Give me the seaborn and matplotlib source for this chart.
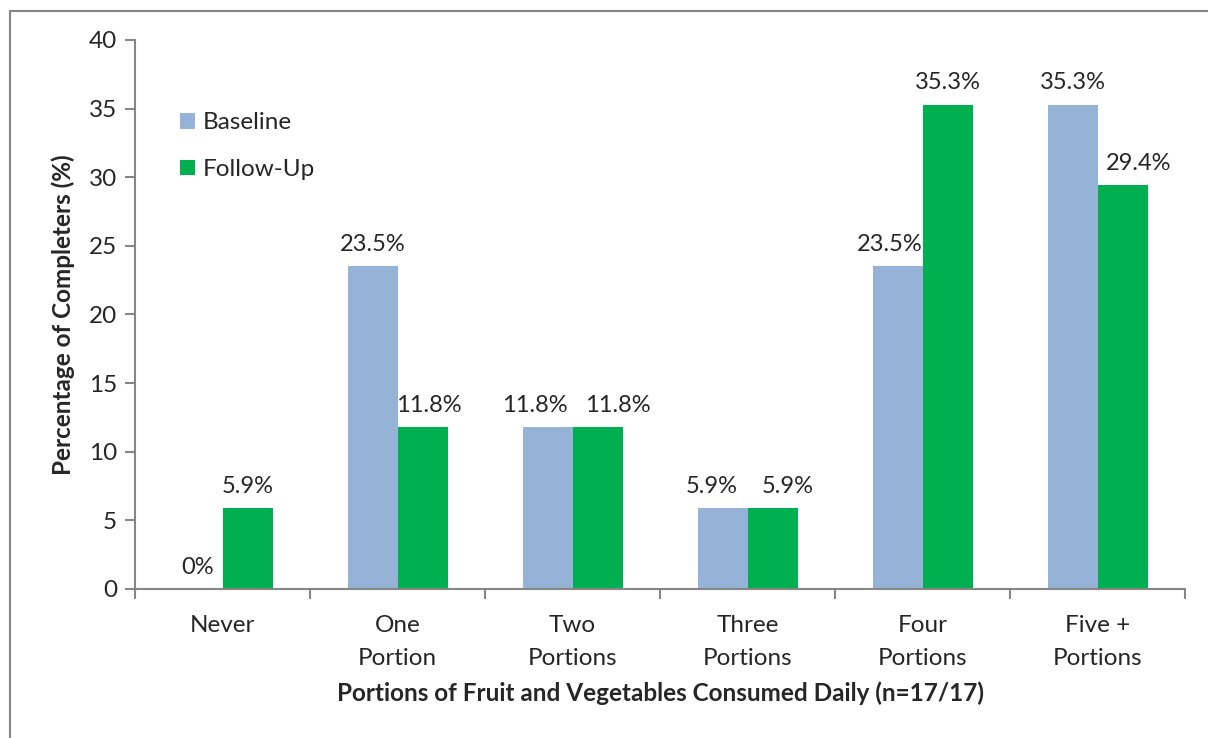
import pandas as pd
import matplotlib
import matplotlib.pyplot as plt
import seaborn as sns

matplotlib.use('Agg')

# data
categories = ['Never', 'One\nPortion', 'Two\nPortions', 'Three\nPortions',
              'Four\nPortions', 'Five +\nPortions']
baseline = [0, 23.5, 11.8, 5.9, 23.5, 35.3]
follow_up = [5.9, 11.8, 11.8, 5.9, 35.3, 29.4]
series = ['Baseline', 'Follow-Up']
colors = ['#95B3D7', '#00B050']

# horizontal nudges of the data labels (pixels), as placed in the original
nudge_base = [0, 0, -13, -11, -8, 0]
nudge_follow = [0, 6, 20, 15, 0, 16]

df = pd.DataFrame({
    'category': categories * 2,
    'value': baseline + follow_up,
    'series': [series[0]] * len(categories) + [series[1]] * len(categories),
})

sns.set_style('white')
plt.rcParams['font.family'] = ['Lato', 'DejaVu Sans']
grey = '#868686'
fs = 17.5

fig = plt.figure(figsize=(12.08, 7.38), dpi=100)
ax = fig.add_axes([0.1118, 0.2019, 0.8692, 0.7439])

sns.barplot(data=df, x='category', y='value', hue='series', palette=colors,
            width=0.571, gap=0, saturation=1, ax=ax, errorbar=None,
            linewidth=0, edgecolor='none')

# data labels
for cont, vals, nudges in zip(ax.containers, [baseline, follow_up],
                              [nudge_base, nudge_follow]):
    for bar, v, dx in zip(cont, vals, nudges):
        ax.annotate(f'{v:g}%', (bar.get_x() + bar.get_width() / 2, bar.get_height()),
                    xytext=(dx * 0.72, 8), textcoords='offset points',
                    ha='center', va='bottom', fontsize=fs - 0.5)

ax.set_ylim(0, 40)
ax.set_yticks(range(0, 41, 5))
ax.set_xlim(-0.5, len(categories) - 0.5)
ax.set_xticks(range(len(categories)))
ax.set_xticklabels(categories, linespacing=1.68)
ax.set_xticks([i - 0.5 for i in range(len(categories) + 1)], minor=True)
ax.tick_params(axis='x', which='major', length=0, labelsize=fs, pad=19)
ax.tick_params(axis='x', which='minor', length=7, color=grey, width=1.5, direction='out')
ax.tick_params(axis='y', length=7, color=grey, width=1.5, direction='out', labelsize=fs, pad=6)
ax.xaxis.set_ticks_position('bottom')
ax.yaxis.set_ticks_position('left')

for side in ['top', 'right']:
    ax.spines[side].set_visible(False)
for side in ['left', 'bottom']:
    ax.spines[side].set_color(grey)
    ax.spines[side].set_linewidth(1.5)

ax.set_xlabel('Portions of Fruit and Vegetables Consumed Daily (n=17/17)',
              fontsize=fs, fontweight='bold', labelpad=9)
ax.set_ylabel('Percentage of Completers (%)', fontsize=fs, fontweight='bold', labelpad=10)

leg = ax.legend(title=None, loc='upper left', bbox_to_anchor=(0.043, 0.868),
                frameon=False, fontsize=fs, handlelength=0.62, handleheight=0.62,
                handletextpad=0.3, labelspacing=1.05, borderpad=0, borderaxespad=0)

# outer chart-area frame (top and left edges visible)
fig.add_artist(plt.Line2D([0.0083, 1.0], [0.985, 0.985], color=grey, lw=1.5,
                          transform=fig.transFigure))
fig.add_artist(plt.Line2D([0.0083, 0.0083], [0.0, 0.985], color=grey, lw=1.5,
                          transform=fig.transFigure))

fig.savefig('out.png', dpi=100)
